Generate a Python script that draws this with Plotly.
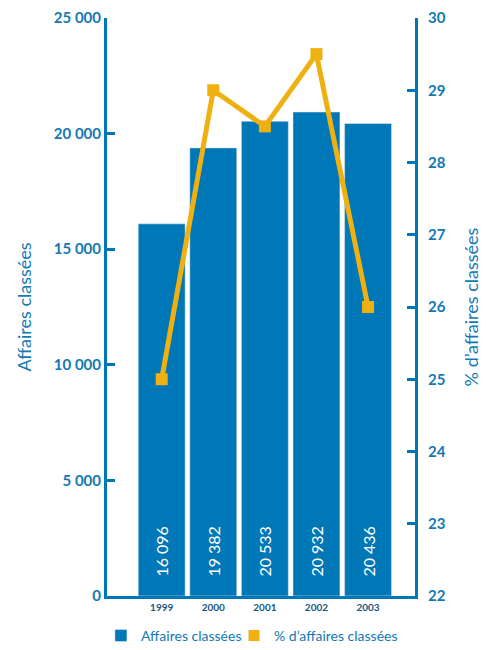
import plotly.graph_objects as go

years = ["1999", "2000", "2001", "2002", "2003"]
affaires = [16096, 19382, 20533, 20932, 20436]
pct = [25.0, 29.0, 28.5, 29.5, 26.0]
left_ticks = [0, 5000, 10000, 15000, 20000, 25000]
right_ticks = [22, 23, 24, 25, 26, 27, 28, 29, 30]

BLUE = "#0077B6"
GOLD = "#EFB011"
TXT = "#1279B2"
FONT = "Lato"
NB = "\u00a0"

fig = go.Figure()
fig.add_trace(go.Bar(
    x=years, y=affaires, name="Affaires classées", marker_color=BLUE,
    texttemplate=NB * 4 + "%{y:,d}", textposition="inside", insidetextanchor="start",
    textangle=-90, textfont=dict(color="white", size=16, family=FONT),
    showlegend=True, legend="legend",
))
fig.add_trace(go.Scatter(
    x=years, y=pct, yaxis="y2", mode="lines+markers",
    line=dict(color=GOLD, width=5),
    marker=dict(symbol="square", size=12, color=GOLD),
    showlegend=False, name="% d’affaires classées",
))
fig.add_trace(go.Scatter(
    x=[None], y=[None], yaxis="y2", mode="markers", name="% d’affaires classées",
    marker=dict(symbol="square", size=11, color=GOLD), legend="legend2",
))

leg_common = dict(orientation="h", xanchor="left", xref="container",
                  y=0.022, yanchor="middle", yref="container",
                  font=dict(size=14, color=TXT), tracegroupgap=0, itemwidth=30,
                  bgcolor="rgba(0,0,0,0)")

fig.update_layout(
    width=484, height=642,
    margin=dict(l=99, r=77, t=10, b=54, autoexpand=False),
    paper_bgcolor="white", plot_bgcolor="white",
    separators=", ",
    bargap=0.09,
    font=dict(family=FONT, color=TXT),
    xaxis=dict(
        range=[-1.06, 4.91], showline=True, linecolor=BLUE, linewidth=3,
        ticks="", showgrid=False, zeroline=False,
        tickfont=dict(size=10, family=FONT, color="#16557F", weight="bold"),
    ),
    yaxis=dict(
        range=[0, 25000], tickvals=left_ticks, tickformat=",d",
        showline=True, linecolor=BLUE, linewidth=3, ticks="inside", ticklen=8,
        tickwidth=3, tickcolor=BLUE, showgrid=False, zeroline=False,
        tickfont=dict(size=15, family=FONT, color=TXT, weight="bold"),
        title=dict(text="Affaires classées", font=dict(size=18, color=TXT), standoff=18),
    ),
    yaxis2=dict(
        range=[22, 30], tickvals=right_ticks, overlaying="y", side="right",
        showline=True, linecolor=BLUE, linewidth=3, ticks="inside", ticklen=8,
        tickwidth=3, tickcolor=BLUE, showgrid=False, zeroline=False,
        ticklabelstandoff=7,
        tickfont=dict(size=15, family=FONT, color=TXT, weight="bold"),
        title=dict(text="% d’affaires classées", font=dict(size=18, color=TXT), standoff=21),
    ),
    legend=dict(x=0.192, **leg_common),
    legend2=dict(x=0.467, **leg_common),
)
fig.write_html("out.html")
